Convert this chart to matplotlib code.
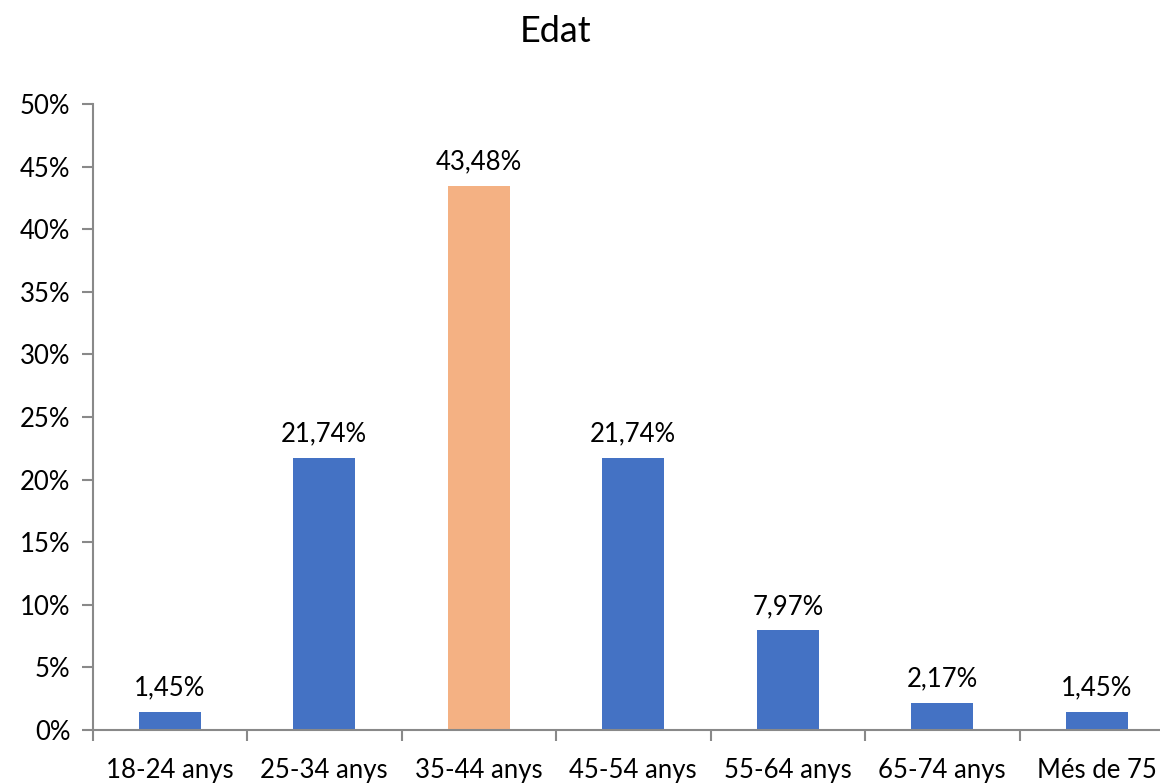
import matplotlib
matplotlib.use("Agg")
import matplotlib.pyplot as plt
from matplotlib.ticker import FixedLocator, FuncFormatter

# age groups and share of respondents (%)
categories = ["18-24 anys", "25-34 anys", "35-44 anys", "45-54 anys",
              "55-64 anys", "65-74 anys", "Més de 75"]
values = [1.45, 21.74, 43.48, 21.74, 7.97, 2.17, 1.45]
highlight = "35-44 anys"

blue = "#4472C4"
orange = "#F4B183"
axis_grey = "#898989"

plt.rcParams['font.family'] = ['Lato', 'DejaVu Sans']

fig = plt.figure(figsize=(11.6, 7.84), dpi=100)
ax = fig.add_axes([92.5 / 1160, 54 / 784, 1081.5 / 1160, 626 / 784])

x = list(range(len(categories)))
colors = [orange if c == highlight else blue for c in categories]
bars = ax.bar(x, values, width=0.4, color=colors, zorder=2)

# value labels above each bar, comma decimal separator
for b, v in zip(bars, values):
    ax.annotate(f"{v:.2f}%".replace(".", ","),
                (b.get_x() + b.get_width() / 2, v),
                xytext=(0, 8), textcoords="offset points",
                ha="center", va="bottom", fontsize=18.5, color="#000000")

ax.set_xlim(-0.5, len(categories) - 0.5)
ax.set_ylim(0, 50)
ax.set_yticks(range(0, 51, 5))
ax.yaxis.set_major_formatter(FuncFormatter(lambda v, p: f"{int(v)}%"))

ax.set_xticks(x)
ax.set_xticklabels(categories)
ax.xaxis.set_minor_locator(FixedLocator([i + 0.5 for i in range(-1, len(categories))]))
ax.tick_params(axis="x", which="major", length=0, pad=20, labelsize=18.5)
ax.tick_params(axis="x", which="minor", length=8, width=1.5, color=axis_grey)
ax.tick_params(axis="y", length=8, width=1.5, color=axis_grey, pad=8, labelsize=18.5)

for side in ["top", "right"]:
    ax.spines[side].set_visible(False)
for side in ["left", "bottom"]:
    ax.spines[side].set_color(axis_grey)
    ax.spines[side].set_linewidth(1.5)

fig.text(556 / 1160, 1 - 32 / 784, "Edat", ha="center", va="center", fontsize=26)

fig.savefig("out.png", dpi=100)
